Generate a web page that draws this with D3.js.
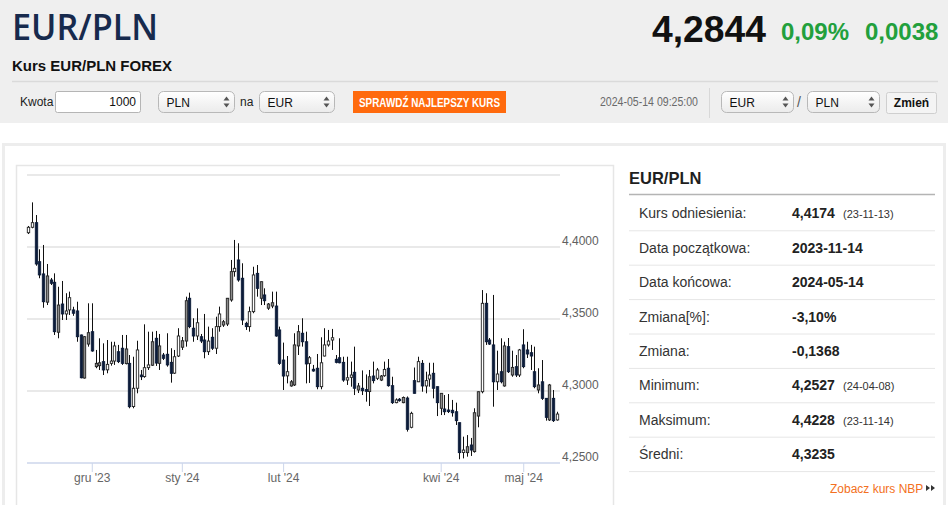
<!DOCTYPE html>
<html>
<head>
<meta charset="utf-8">
<script src="https://cdn.jsdelivr.net/npm/d3@7"></script>
<style>
  html, body { margin: 0; padding: 0; background: #fff; }
  svg { display: block; font-family: "Liberation Sans", Arial, sans-serif; }
</style>
</head>
<body>
<script>
// daily EUR/PLN candles, 2023-11-14 .. 2024-05-14
const open = [4.4099,4.4137,4.4169,4.3898,4.3813,4.3617,4.3771,4.3755,4.3408,4.3604,
  4.3535,4.3563,4.3563,4.3556,4.3389,4.3090,4.3326,4.3412,4.3169,4.3176,
  4.3204,4.3147,4.3192,4.3208,4.3273,4.3297,4.3190,4.3192,4.2892,4.3019,
  4.3111,4.3100,4.3162,4.3179,4.3366,4.3192,4.3250,4.3255,4.3199,4.3124,
  4.3243,4.3304,4.3347,4.3644,4.3436,4.3382,4.3377,4.3354,4.3273,4.3373,
  4.3297,4.3447,4.3458,4.3465,4.3632,4.3829,4.3910,4.3783,4.3470,4.3447,
  4.3551,4.3817,4.3644,4.3667,4.3575,4.3590,4.3590,4.3424,4.3215,4.3105,
  4.3035,4.3042,4.3313,4.3401,4.3342,4.3192,4.3151,4.3158,4.3030,4.3243,
  4.3320,4.3354,4.3220,4.3231,4.3199,4.3076,4.3095,4.3130,4.3007,4.3019,
  4.3010,4.2996,4.3104,4.3088,4.3076,4.3106,4.3158,4.3037,4.2919,4.2943,
  4.2919,4.2951,4.2748,4.3072,4.3064,4.3192,4.3035,4.3083,4.3123,4.3030,
  4.2880,4.2875,4.2868,4.2866,4.2856,4.2780,4.2573,4.2572,4.2625,4.2579,
  4.2826,4.2995,4.3609,4.3354,4.3320,4.3064,4.3134,4.3035,4.3308,4.3111,
  4.3169,4.3111,4.3320,4.3285,4.3266,4.3134,4.3007,4.3064,4.2949,4.2799,
  4.2949,4.2799]
const high = [4.4146,4.4310,4.4222,4.3984,4.4014,4.3882,4.3785,4.3817,4.3724,4.3764,
  4.3679,4.3690,4.3585,4.3620,4.3392,4.3382,4.3609,4.3609,4.3285,4.3366,
  4.3331,4.3354,4.3342,4.3342,4.3320,4.3389,4.3389,4.3250,4.3238,4.3349,
  4.3146,4.3463,4.3412,4.3412,4.3417,4.3396,4.3264,4.3401,4.3297,4.3285,
  4.3436,4.3375,4.3655,4.3683,4.3505,4.3574,4.3396,4.3535,4.3447,4.3436,
  4.3516,4.3586,4.3493,4.3646,4.3910,4.4049,4.4026,4.3887,4.3481,4.3586,
  4.3863,4.3875,4.3760,4.3713,4.3611,4.3690,4.3690,4.3447,4.3336,4.3243,
  4.3076,4.3401,4.3458,4.3505,4.3412,4.3243,4.3181,4.3257,4.3373,4.3436,
  4.3424,4.3431,4.3250,4.3366,4.3238,4.3238,4.3204,4.3308,4.3056,4.3143,
  4.3115,4.3146,4.3204,4.3160,4.3111,4.3204,4.3222,4.3099,4.2949,4.2951,
  4.2962,4.2962,4.2856,4.3163,4.3238,4.3215,4.3134,4.3196,4.3196,4.3031,
  4.2986,4.2972,4.2979,4.2938,4.2919,4.2781,4.2683,4.2694,4.2674,4.2880,
  4.2997,4.3701,4.3679,4.3368,4.3667,4.3280,4.3366,4.3342,4.3368,4.3280,
  4.3250,4.3292,4.3429,4.3342,4.3320,4.3308,4.3158,4.3215,4.2951,4.3049,
  4.3007,4.2856]
const low = [4.4090,4.4130,4.3870,4.3783,4.3578,4.3597,4.3736,4.3389,4.3366,4.3493,
  4.3493,4.3528,4.3522,4.3342,4.3088,4.3086,4.3308,4.3273,4.3158,4.3146,
  4.3111,4.3123,4.3176,4.3181,4.3194,4.3181,4.3185,4.2880,4.2880,4.2984,
  4.3076,4.3092,4.3146,4.3174,4.3174,4.3146,4.3215,4.3169,4.3058,4.3118,
  4.3236,4.3285,4.3308,4.3436,4.3342,4.3354,4.3333,4.3227,4.3250,4.3285,
  4.3257,4.3412,4.3445,4.3451,4.3620,4.3794,4.3759,4.3458,4.3424,4.3412,
  4.3540,4.3655,4.3597,4.3597,4.3563,4.3575,4.3377,4.3181,4.3007,4.3053,
  4.3030,4.3035,4.3250,4.3308,4.3053,4.3056,4.3134,4.3012,4.3012,4.3240,
  4.3308,4.3285,4.3192,4.3192,4.3064,4.3042,4.3030,4.2972,4.2986,4.2972,
  4.2926,4.2896,4.3053,4.3076,4.3069,4.3099,4.3030,4.2910,4.2915,4.2926,
  4.2915,4.2718,4.2741,4.2982,4.3062,4.2995,4.2984,4.3030,4.2949,4.2826,
  4.2833,4.2833,4.2847,4.2822,4.2764,4.2526,4.2532,4.2544,4.2549,4.2572,
  4.2748,4.2984,4.3320,4.3320,4.2891,4.3007,4.3053,4.3030,4.3125,4.3099,
  4.3097,4.3097,4.3158,4.3229,4.3146,4.3019,4.2984,4.2938,4.2794,4.2792,
  4.2785,4.2794]
const close = [4.4137,4.4169,4.3882,4.3806,4.3620,4.3799,4.3748,4.3412,4.3597,4.3535,
  4.3556,4.3648,4.3540,4.3377,4.3092,4.3377,4.3405,4.3278,4.3192,4.3196,
  4.3146,4.3185,4.3208,4.3313,4.3204,4.3192,4.3292,4.2891,4.3019,4.3285,
  4.3099,4.3162,4.3181,4.3342,4.3194,4.3313,4.3227,4.3181,4.3123,4.3238,
  4.3382,4.3349,4.3627,4.3447,4.3382,4.3474,4.3347,4.3273,4.3347,4.3297,
  4.3447,4.3535,4.3481,4.3644,4.3829,4.3852,4.3771,4.3493,4.3447,4.3551,
  4.3806,4.3713,4.3759,4.3627,4.3604,4.3613,4.3382,4.3192,4.3104,4.3134,
  4.3064,4.3320,4.3412,4.3342,4.3188,4.3231,4.3139,4.3030,4.3196,4.3320,
  4.3347,4.3370,4.3199,4.3196,4.3076,4.3092,4.3111,4.3019,4.3035,4.3002,
  4.2998,4.3099,4.3072,4.3146,4.3104,4.3150,4.3037,4.2919,4.2938,4.2933,
  4.2955,4.2734,4.2845,4.2984,4.3204,4.3035,4.3072,4.3111,4.3019,4.2919,
  4.2984,4.2856,4.2857,4.2849,4.2794,4.2572,4.2590,4.2613,4.2590,4.2849,
  4.2995,4.3609,4.3342,4.3326,4.3064,4.3118,4.3064,4.3313,4.3134,4.3164,
  4.3111,4.3285,4.3169,4.3257,4.3243,4.3030,4.3042,4.2949,4.2817,4.3042,
  4.2794,4.2840]

// first candle of each labelled month
const monthIdx = [17, 41, 68, 110, 132]
const monthLabels = ["gru '23", "sty '24", "lut '24", "kwi '24", "maj '24"]
const gridValues = [4.25, 4.30, 4.35, 4.40, 4.45]
const axisLabelValues = [4.25, 4.30, 4.35, 4.40]

const statLabels = ['Kurs odniesienia:', 'Data początkowa:', 'Data końcowa:', 'Zmiana[%]:',
  'Zmiana:', 'Minimum:', 'Maksimum:', 'Średni:']
const statValues = ['4,4174', '2023-11-14', '2024-05-14', '-3,10%', '-0,1368', '4,2527', '4,4228', '4,3235']
const statDates = ['(23-11-13)', '', '', '', '', '(24-04-08)', '(23-11-14)', '']

const width = 948
const height = 505

const svg = d3.select('body')
  .append('svg')
  .attr('width', width)
  .attr('height', height)

const defs = svg.append('defs')
const grad = defs.append('linearGradient')
  .attr('id', 'selGrad')
  .attr('x1', 0).attr('y1', 0).attr('x2', 0).attr('y2', 1)
grad.append('stop').attr('offset', '0%').attr('stop-color', '#ffffff')
grad.append('stop').attr('offset', '100%').attr('stop-color', '#ebebeb')

// ---- header ----
svg.append('rect')
  .attr('width', width).attr('height', 123)
  .attr('fill', '#efefef')

svg.append('text')
  .attr('x', 12).attr('y', 40)
  .attr('font-family', '"Open Sans", sans-serif')
  .attr('font-weight', 600)
  .attr('font-size', 36)
  .attr('textLength', 146).attr('lengthAdjust', 'spacingAndGlyphs')
  .attr('fill', '#172a4d')
  .text('EUR/PLN')

svg.append('text')
  .attr('x', 652).attr('y', 42)
  .attr('font-weight', 'bold').attr('font-size', 36)
  .attr('textLength', 114).attr('lengthAdjust', 'spacingAndGlyphs')
  .attr('fill', '#111')
  .text('4,2844')

svg.append('text')
  .attr('x', 781).attr('y', 40)
  .attr('font-weight', 'bold').attr('font-size', 24)
  .attr('fill', '#22a03c')
  .text('0,09%')

svg.append('text')
  .attr('x', 865).attr('y', 40)
  .attr('font-weight', 'bold').attr('font-size', 24)
  .attr('fill', '#22a03c')
  .text('0,0038')

svg.append('text')
  .attr('x', 12).attr('y', 71)
  .attr('font-weight', 'bold').attr('font-size', 15)
  .attr('fill', '#111')
  .text('Kurs EUR/PLN FOREX')

svg.append('line')
  .attr('x1', 12).attr('x2', 938)
  .attr('y1', 81.5).attr('y2', 81.5)
  .attr('stroke', '#dadada').attr('stroke-width', 1.5)

// ---- form row ----
function selectBox(x, w, label) {
  let g = svg.append('g').attr('transform', `translate(${x}, 91.5)`)
  g.append('rect')
    .attr('width', w).attr('height', 21).attr('rx', 5)
    .attr('fill', 'url(#selGrad)')
    .attr('stroke', '#b8b8b8')
  g.append('text')
    .attr('x', 8).attr('y', 15)
    .attr('font-size', 12).attr('fill', '#111')
    .text(label)
  g.append('path')
    .attr('d', `M${w - 11},9 l3,-4 l3,4 z M${w - 11},12 l3,4 l3,-4 z`)
    .attr('fill', '#555')
}

svg.append('text')
  .attr('x', 20).attr('y', 106)
  .attr('font-size', 12).attr('fill', '#222')
  .text('Kwota')

svg.append('rect')
  .attr('x', 55.5).attr('y', 91.5)
  .attr('width', 85).attr('height', 21).attr('rx', 2)
  .attr('fill', '#fff').attr('stroke', '#b5b5b5')

svg.append('text')
  .attr('x', 136).attr('y', 106)
  .attr('text-anchor', 'end')
  .attr('font-size', 12).attr('fill', '#111')
  .text('1000')

selectBox(158.5, 76, 'PLN')

svg.append('text')
  .attr('x', 240).attr('y', 106)
  .attr('font-size', 12).attr('fill', '#222')
  .text('na')

selectBox(259.5, 75, 'EUR')

svg.append('rect')
  .attr('x', 353).attr('y', 91)
  .attr('width', 153).attr('height', 22)
  .attr('fill', '#ff6a0d')

svg.append('text')
  .attr('x', 359).attr('y', 106.5)
  .attr('font-weight', 'bold').attr('font-size', 12)
  .attr('textLength', 141).attr('lengthAdjust', 'spacingAndGlyphs')
  .attr('fill', '#fff')
  .text('SPRAWDŹ NAJLEPSZY KURS')

svg.append('text')
  .attr('x', 600).attr('y', 106)
  .attr('font-size', 12.5)
  .attr('textLength', 98).attr('lengthAdjust', 'spacingAndGlyphs')
  .attr('fill', '#6a6a6a')
  .text('2024-05-14 09:25:00')

svg.append('line')
  .attr('x1', 709.5).attr('x2', 709.5)
  .attr('y1', 88).attr('y2', 118)
  .attr('stroke', '#d8d8d8')

selectBox(721.5, 72, 'EUR')

svg.append('text')
  .attr('x', 797).attr('y', 107)
  .attr('font-size', 14).attr('fill', '#555')
  .text('/')

selectBox(807.5, 72, 'PLN')

svg.append('rect')
  .attr('x', 886.5).attr('y', 92.5)
  .attr('width', 50).attr('height', 21).attr('rx', 2)
  .attr('fill', '#f4f4f4').attr('stroke', '#cfcfcf')

svg.append('text')
  .attr('x', 911.5).attr('y', 107)
  .attr('text-anchor', 'middle')
  .attr('font-weight', 'bold').attr('font-size', 12)
  .attr('fill', '#111')
  .text('Zmień')

// ---- content boxes ----
svg.append('rect')
  .attr('x', 3.5).attr('y', 144.5)
  .attr('width', 941).attr('height', 420)
  .attr('fill', '#fff')
  .attr('stroke', '#ededed').attr('stroke-width', 3)

svg.append('rect')
  .attr('x', 16.5).attr('y', 165.5)
  .attr('width', 597).attr('height', 420)
  .attr('fill', '#fff')
  .attr('stroke', '#e6e6e6').attr('stroke-width', 1.5)

// ---- candlestick chart ----
let candles = close.map((c, i) => ({
  i: i,
  open: open[i],
  high: high[i],
  low: low[i],
  close: c,
  prev: i > 0 ? close[i - 1] : open[i]
}))

let x = d3.scaleLinear()
  .domain([0, candles.length - 1])
  .range([28, 557])

let y = d3.scaleLinear()
  .domain([4.25, 4.45])
  .range([463, 175])

let fmt = d => d3.format('.4f')(d).replace('.', ',')

let chart = svg.append('g')

chart.append('g')
  .selectAll('line')
  .data(gridValues.filter(d => d > 4.25))
  .enter()
  .append('line')
  .attr('x1', 27).attr('x2', 560)
  .attr('y1', d => y(d)).attr('y2', d => y(d))
  .attr('stroke', '#e2e2e2').attr('stroke-width', 1.5)

chart.append('g')
  .selectAll('text')
  .data(axisLabelValues)
  .enter()
  .append('text')
  .attr('x', 562)
  .attr('y', d => y(d) - 2)
  .attr('font-size', 12)
  .attr('fill', '#606060')
  .text(fmt)

// x axis
let xAxis = d3.axisBottom(x)
  .tickValues(monthIdx)
  .tickFormat((d, i) => monthLabels[i])
  .tickSize(9)
  .tickSizeOuter(0)

let xg = chart.append('g')
  .attr('transform', `translate(0, ${y(4.25)})`)
  .call(xAxis)
xg.select('.domain').remove()
xg.selectAll('.tick line').attr('stroke', '#ccd6eb')
xg.selectAll('.tick text')
  .attr('dy', 0).attr('y', 19)
  .attr('font-family', '"Liberation Sans", Arial, sans-serif')
  .attr('font-size', 12)
  .attr('fill', '#666')

chart.append('line')
  .attr('x1', 27).attr('x2', 560)
  .attr('y1', y(4.25)).attr('y2', y(4.25))
  .attr('stroke', '#ccd6eb').attr('stroke-width', 1.5)

// filled when close < open, grey when opened below previous close and rose
function bodyFill(d) {
  if (d.close < d.open) return '#0c1c3a'
  if (d.i > 0 && d.open < d.prev) return '#8c8c8c'
  return '#ffffff'
}
function bodyStroke(d) {
  if (d.close < d.open) return '#0c1c3a'
  return '#222'
}

let candle = chart.append('g')
  .selectAll('.candle')
  .data(candles)
  .enter()
  .append('g')
  .attr('class', 'candle')

candle.append('line')
  .attr('x1', d => Math.round(x(d.i)) + 0.5)
  .attr('x2', d => Math.round(x(d.i)) + 0.5)
  .attr('y1', d => y(d.high))
  .attr('y2', d => y(d.low))
  .attr('stroke', '#111')
  .attr('stroke-width', 1)

candle.append('rect')
  .attr('x', d => Math.round(x(d.i)) + 0.5 - 1.2)
  .attr('width', 2.4)
  .attr('y', d => y(Math.max(d.open, d.close)))
  .attr('height', d => Math.max(0.8, y(Math.min(d.open, d.close)) - y(Math.max(d.open, d.close))))
  .attr('fill', bodyFill)
  .attr('stroke', bodyStroke)
  .attr('stroke-width', 0.9)

// ---- stats panel ----
let panel = svg.append('g')

panel.append('text')
  .attr('x', 629).attr('y', 184)
  .attr('font-weight', 'bold').attr('font-size', 16.5)
  .attr('fill', '#1f1f1f')
  .text('EUR/PLN')

panel.append('line')
  .attr('x1', 629).attr('x2', 935)
  .attr('y1', 194.5).attr('y2', 194.5)
  .attr('stroke', '#b4b4b4').attr('stroke-width', 1.5)

let rowY = d3.scaleLinear().domain([0, 1]).range([213.3, 247.7])

let row = panel.selectAll('.row')
  .data(statLabels)
  .enter()
  .append('g')
  .attr('class', 'row')
  .attr('transform', (d, i) => `translate(0, ${rowY(i)})`)

row.append('text')
  .attr('x', 639).attr('y', 5)
  .attr('font-size', 14).attr('fill', '#333')
  .text(d => d)

row.append('text')
  .attr('x', 792).attr('y', 5)
  .attr('font-size', 14).attr('font-weight', 'bold')
  .attr('fill', '#222')
  .text((d, i) => statValues[i])

row.append('text')
  .attr('x', 843).attr('y', 5)
  .attr('font-size', 11).attr('fill', '#333')
  .text((d, i) => statDates[i])

row.append('line')
  .attr('x1', 629).attr('x2', 935)
  .attr('y1', 17.5).attr('y2', 17.5)
  .attr('stroke', '#e6e6e6')

panel.append('text')
  .attr('x', 830).attr('y', 493)
  .attr('font-size', 12)
  .attr('fill', '#f37021')
  .text('Zobacz kurs NBP')

panel.append('path')
  .attr('d', 'M926,485 l4,3 l-4,3 z M931,485 l4,3 l-4,3 z')
  .attr('fill', '#333')
</script>
</body>
</html>
